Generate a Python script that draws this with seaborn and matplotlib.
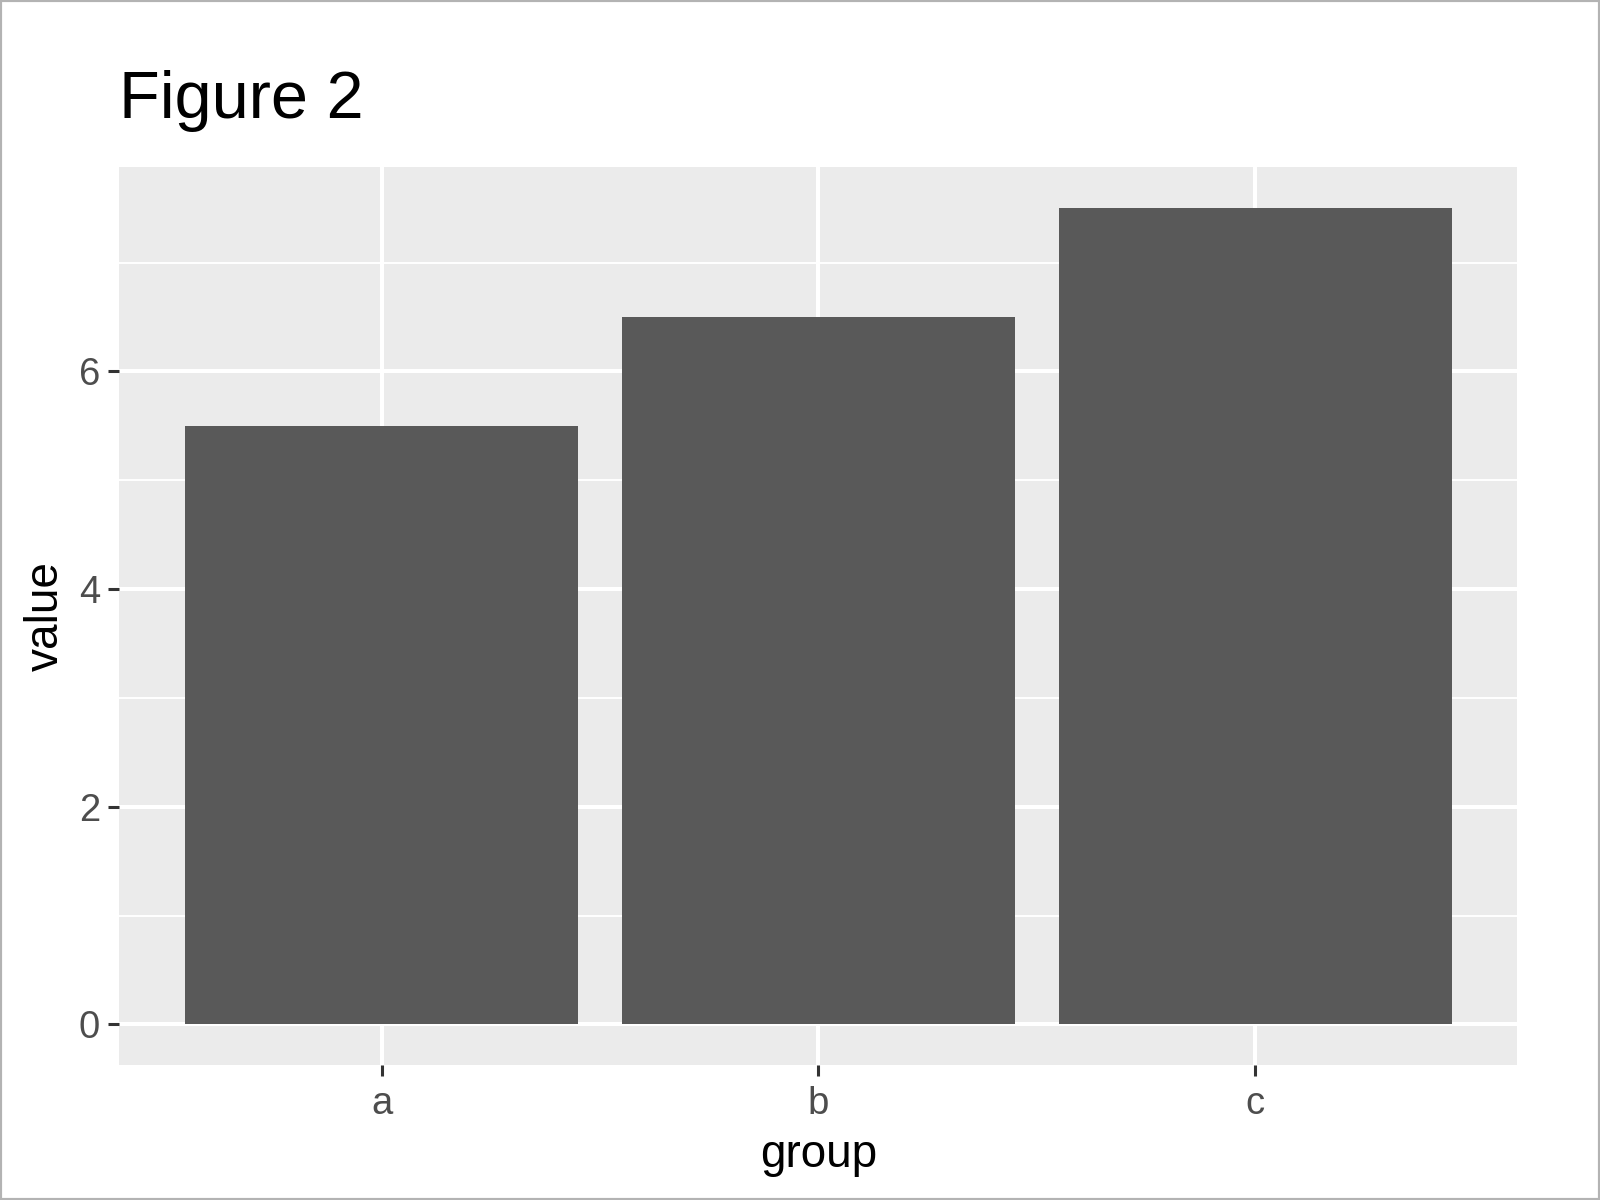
import matplotlib
matplotlib.use('Agg')
import pandas as pd
import seaborn as sns
import matplotlib.pyplot as plt
from matplotlib.ticker import MultipleLocator
from matplotlib.patches import Rectangle

groups = ['a', 'b', 'c']
values = [5.5, 6.5, 7.5]

df = pd.DataFrame({'group': groups, 'value': values})

sns.set_theme(style='darkgrid')
plt.rcParams['font.family'] = ['Liberation Sans', 'DejaVu Sans']

W, H = 1568, 1176  # reference pixel grid

fig = plt.figure(figsize=(16, 12), dpi=100)
ax = fig.add_axes([117 / W, 1 - 1044 / H, (1487 - 117) / W, (1044 - 164) / H])
ax.set_facecolor('#EBEBEB')

sns.barplot(x='group', y='value', data=df, color='#595959', width=0.9,
            saturation=1, linewidth=0, ax=ax, zorder=3)

ax.set_ylim(-0.375, 7.875)
ax.set_xlim(-0.6, 2.6)
ax.yaxis.set_major_locator(MultipleLocator(2))
ax.yaxis.set_minor_locator(MultipleLocator(1))

ax.grid(which='major', color='white', linewidth=2.9, zorder=1)
ax.grid(which='minor', axis='y', color='white', linewidth=1.4, zorder=1)
ax.set_axisbelow(True)
for s in ax.spines.values():
    s.set_visible(False)

ax.tick_params(axis='both', which='major', length=8, width=2.2, color='#333333',
               labelcolor='#4D4D4D', labelsize=27.5, pad=6, bottom=True, left=True)
ax.tick_params(axis='x', pad=7)
ax.tick_params(which='minor', length=0)

ax.set_xlabel('group', fontsize=33, color='black', labelpad=8)
ax.set_ylabel('value', fontsize=33, color='black', labelpad=7.5)

fig.text(117 / W, 1 - 116 / H, 'Figure 2', fontsize=48, color='black',
         ha='left', va='baseline')

# light gray frame around the picture
fig.patches.append(Rectangle((0, 0), 1, 1, transform=fig.transFigure,
                             fill=False, edgecolor='#B3B3B3', linewidth=3))

fig.savefig('out.png', dpi=100, facecolor='white')
